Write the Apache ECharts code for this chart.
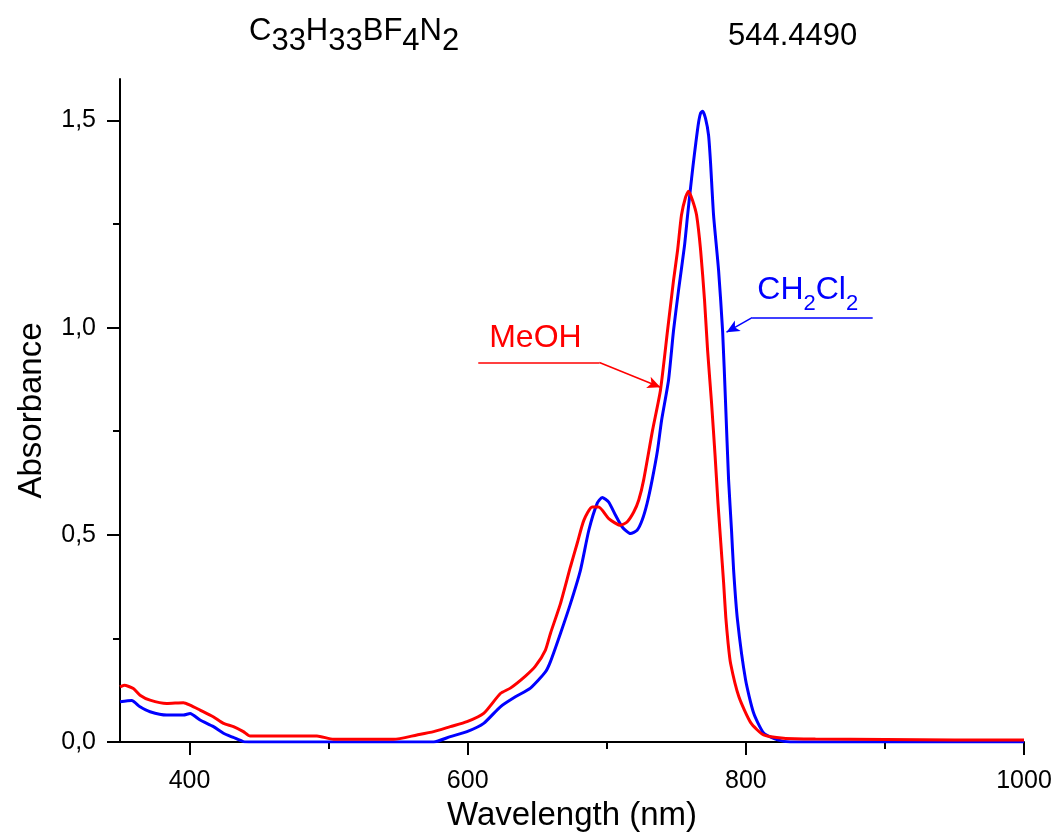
<!DOCTYPE html>
<html>
<head>
<meta charset="utf-8">
<script src="https://cdn.jsdelivr.net/npm/echarts@6/dist/echarts.min.js"></script>
<style>html,body{margin:0;padding:0;background:#fff}#c{width:1056px;height:839px}</style>
</head>
<body>
<div id="c"></div>
<script>
// ---- data ----
const meohWl  = [350,353,359.6,364.4,371.6,383.6,395.6,400.4,407.6,417,424.4,431.6,438.7,443.6,491.6,503.5,546.7,563.5,575.5,587.5,599.5,611.5,623.5,630.7,641.5,648.7,655.9,659.5,666.7,673.9,678.7,683.5,689.5,694.2,701.4,709.8,714.6,719.4,723,726.5,732.9,738.6,743.7,748,750.9,753.7,756.6,758.8,761.7,764.6,767.5,770.3,772.5,775.3,777.9,780,782,784,785.6,787.2,789,795,803.6,812.8,827.2,850,900,950,1000];
const meohAbs = [0.133,0.137,0.129,0.113,0.101,0.093,0.095,0.089,0.077,0.061,0.045,0.037,0.025,0.0145,0.0145,0.0065,0.0065,0.017,0.025,0.037,0.049,0.069,0.117,0.130,0.159,0.183,0.222,0.262,0.334,0.423,0.479,0.535,0.567,0.567,0.539,0.523,0.531,0.555,0.584,0.632,0.752,0.849,0.993,1.114,1.186,1.271,1.314,1.329,1.307,1.271,1.186,1.066,0.945,0.82,0.69,0.575,0.48,0.385,0.30,0.24,0.19,0.109,0.046,0.017,0.009,0.007,0.006,0.005,0.005];
const dcmWl   = [350,358.4,364.4,371.6,383.6,395.6,400.4,407.6,417.2,424.4,431.5,438.7,445,570,575.5,587.5,599.5,611.5,623.5,634.3,645.1,655.9,659.5,666.7,673.9,681.1,687.1,693.1,696.7,701.4,706.3,711.1,717,721.8,725.4,729,732.6,736.5,739.4,744.4,748,751.6,755.9,758.1,760,762,764,766,767.5,768.9,771,773.2,774.6,776.8,780.4,783.3,785.4,787.6,789.7,791.2,794,799.8,805.6,812.8,822.8,832,1000];
const dcmAbs  = [0.097,0.100,0.085,0.073,0.065,0.065,0.069,0.053,0.037,0.021,0.011,0.001,0,0,0,0.013,0.025,0.045,0.085,0.109,0.130,0.169,0.194,0.262,0.334,0.415,0.511,0.576,0.590,0.579,0.547,0.519,0.503,0.511,0.535,0.576,0.632,0.704,0.776,0.873,0.993,1.090,1.198,1.271,1.33,1.39,1.445,1.495,1.518,1.522,1.505,1.464,1.399,1.271,1.138,0.991,0.82,0.632,0.511,0.415,0.294,0.150,0.070,0.022,0.005,0,0];
const xMajorTicks = [400,600,800,1000];
const xMinorTicks = [500,700,900];
const yMajorTicks = [0,0.5,1.0,1.5];
const yMinorTicks = [0.25,0.75,1.25];
const formulaParts = [['C','33'],['H','33'],['BF','4'],['N','2']];
const massText = '544.4490';
const xName = 'Wavelength (nm)';
const yName = 'Absorbance';
// annotation anchors (data coordinates)
const meohLabelAt = [648.7, 0.974];
const meohLeader = [[607.6,0.916],[694.7,0.916],[738.6,0.856]];
const dcmLabelAt = [844.5, 1.058];
const dcmLeader = [[891.2,1.024],[804.5,1.024],[786.1,0.989]];

const FONT = '"Liberation Sans", Arial, sans-serif';
const RED = '#ff0000', BLUE = '#0000ff';

function zip(a,b){return a.map((v,i)=>[v,b[i]]);}
function leader(pts,color){
  return {
    silent:true, animation:false, symbol:['none','none'],
    lineStyle:{color:color,width:1.5,type:'solid'}, label:{show:false},
    emphasis:{disabled:true},
    data:[
      [{coord:pts[0]},{coord:pts[1]}],
      [{coord:pts[1]},{coord:pts[2],symbol:'arrow',symbolSize:[9,13]}]
    ]
  };
}

const formulaText = formulaParts.map(p=>'{n|'+p[0]+'}{s|'+p[1]+'}').join('');

const chart = echarts.init(document.getElementById('c'), null, {renderer:'canvas'});
const baseX = {type:'value',min:350,max:1000,gridIndex:0,position:'bottom',splitLine:{show:false}};
const baseY = {type:'value',min:0,max:1.6,gridIndex:0,position:'left',splitLine:{show:false}};
chart.setOption({
  animation:false,
  backgroundColor:'#fff',
  textStyle:{fontFamily:FONT},
  title:[
    {text:formulaText,left:244,top:11,textStyle:{fontWeight:'normal',rich:{
      n:{fontFamily:FONT,fontSize:31,fontWeight:'normal',color:'#000',lineHeight:30,verticalAlign:'top'},
      s:{fontFamily:FONT,fontSize:31,fontWeight:'normal',color:'#000',lineHeight:50,verticalAlign:'middle'}
    }}},
    {text:massText,left:723,top:16,textStyle:{fontFamily:FONT,fontSize:31,fontWeight:'normal',color:'#000'}}
  ],
  grid:{left:120,right:32,top:79,bottom:97,containLabel:false,outerBoundsMode:'none'},
  xAxis:[
    Object.assign({},baseX,{
      name:xName,nameLocation:'middle',nameGap:57,
      nameTextStyle:{fontFamily:FONT,fontSize:33,color:'#000'},
      axisLine:{show:true,onZero:false,lineStyle:{color:'#000',width:2}},
      axisTick:{show:true,length:13,lineStyle:{color:'#000',width:2},customValues:xMajorTicks},
      axisLabel:{show:true,fontFamily:FONT,fontSize:25,color:'#000',margin:27,customValues:xMajorTicks,
        formatter:v=>String(v)}
    }),
    Object.assign({},baseX,{
      axisLine:{show:false,onZero:false},
      axisTick:{show:true,length:7,lineStyle:{color:'#000',width:2},customValues:xMinorTicks},
      axisLabel:{show:false}
    })
  ],
  yAxis:[
    Object.assign({},baseY,{
      name:yName,nameLocation:'middle',nameGap:72,
      nameTextStyle:{fontFamily:FONT,fontSize:33,color:'#000'},
      axisLine:{show:true,onZero:false,lineStyle:{color:'#000',width:2}},
      axisTick:{show:true,length:13,lineStyle:{color:'#000',width:2},customValues:yMajorTicks},
      axisLabel:{show:true,fontFamily:FONT,fontSize:25,color:'#000',margin:24,customValues:yMajorTicks,
        formatter:v=>v.toFixed(1).replace('.',',')}
    }),
    Object.assign({},baseY,{
      axisLine:{show:false,onZero:false},
      axisTick:{show:true,length:7,lineStyle:{color:'#000',width:2},customValues:yMinorTicks},
      axisLabel:{show:false}
    })
  ],
  series:[
    {name:'CH2Cl2',type:'line',xAxisIndex:0,yAxisIndex:0,data:zip(dcmWl,dcmAbs),
     showSymbol:false,smooth:0.2,clip:true,lineStyle:{color:BLUE,width:3},itemStyle:{color:BLUE},
     markLine:leader(dcmLeader,BLUE),
     markPoint:{silent:true,animation:false,symbol:'circle',symbolSize:1,itemStyle:{color:'transparent'},
       data:[{coord:dcmLabelAt,label:{show:true,position:'inside',
         formatter:'{n|CH}{s|2}{n|Cl}{s|2}',
         rich:{n:{fontFamily:FONT,fontSize:32,color:BLUE,lineHeight:32,verticalAlign:'top'},
               s:{fontFamily:FONT,fontSize:22,color:BLUE,lineHeight:58,verticalAlign:'middle'}}}}]}
    },
    {name:'MeOH',type:'line',xAxisIndex:0,yAxisIndex:0,data:zip(meohWl,meohAbs),
     showSymbol:false,smooth:0.2,clip:true,lineStyle:{color:RED,width:3},itemStyle:{color:RED},
     markLine:leader(meohLeader,RED),
     markPoint:{silent:true,animation:false,symbol:'circle',symbolSize:1,itemStyle:{color:'transparent'},
       data:[{coord:meohLabelAt,label:{show:true,position:'inside',formatter:'MeOH',
         fontFamily:FONT,fontSize:32,color:RED}}]}
    }
  ]
});
</script>
</body>
</html>
